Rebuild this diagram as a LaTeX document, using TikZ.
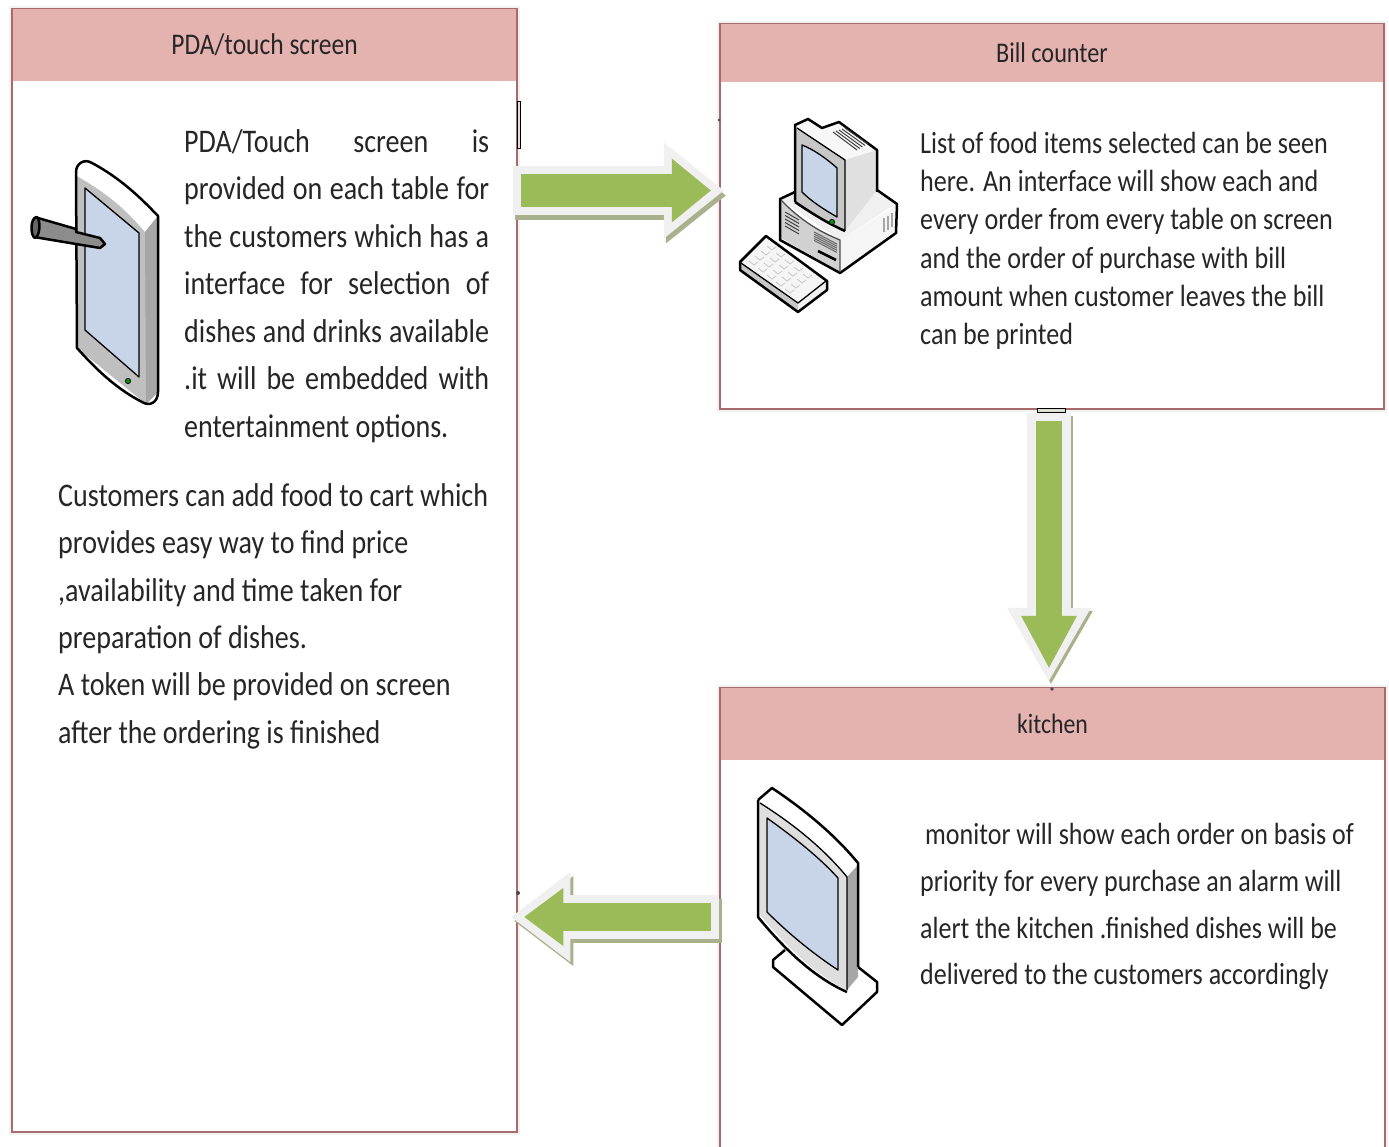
\documentclass[tikz,border=0pt]{standalone}
\usepackage{fontspec}
\setmainfont[FakeStretch=0.85]{Carlito}
\usepackage{tikz}
\usetikzlibrary{arrows.meta}

\definecolor{headred}{HTML}{E4B2AF}
\definecolor{edgered}{HTML}{A86A6A}
\definecolor{arrowgreen}{HTML}{9BBB59}
\definecolor{arrowpale}{HTML}{F0F0F0}
\definecolor{arrowdull}{HTML}{A8B08C}
\definecolor{screenblue}{HTML}{C8D4E8}
\newcommand{\fillline}[1]{\makebox[305pt][s]{#1}}

\begin{document}
\begin{tikzpicture}[
                    x=1pt,
                    y=-1pt,
                    panel/.style={
                        rectangle,
                        draw=edgered,
                        line width=2.5pt,
                        fill=white,
                        inner sep=0pt,
                        preaction={draw=black!5, line width=6pt}
                    },
                    headbar/.style={
                        rectangle,
                        fill=headred,
                        inner sep=0pt,
                        text=black!85,
                        font=\fontsize{30}{36}\selectfont
                    },
                    bodytext/.style={
                        align=left,
                        anchor=north west,
                        inner sep=0pt,
                        text=black!85
                    },
                    arrowedge/.style n args={3}{
                        draw=arrowpale,
                        line width=#1pt,
                        -{Triangle[length=#2pt,width=#3pt,line width=0pt]}
                    },
                    arrowdrop/.style n args={3}{
                        arrowedge={#1}{#2}{#3},
                        draw=arrowdull
                    },
                    arrowfill/.style n args={3}{
                        arrowedge={#1}{#2}{#3},
                        draw=arrowgreen,
                        shorten <=8pt,
                        shorten >=13pt
                    },
                    iconline/.style={
                        draw=black,
                        line width=2.5pt,
                        line join=round
                    },
                    thinline/.style={
                        draw=black,
                        line width=1.3pt,
                        line join=round
                    }
                ]
                    \useasboundingbox (0,0) rectangle (1389,1147);
                    \clip (0,0) rectangle (1389,1147);

                    % Boxes
                    \node (pda) [panel, minimum width=505pt, minimum height=1123pt] at (264.5,570.5) {};
                    \node (pdahead) [headbar, minimum width=503pt, minimum height=72pt, anchor=north] at ([yshift=-1pt]pda.north) {PDA/touch screen};
                    \node (bill) [panel, minimum width=664pt, minimum height=385pt] at (1052,216.5) {};
                    \node (billhead) [headbar, minimum width=662pt, minimum height=58.5pt, anchor=north, font=\fontsize{28.5}{34}\selectfont] at ([yshift=-1pt]bill.north) {Bill counter};
                    \node (kitchen) [panel, minimum width=665pt, minimum height=520pt] at (1052.5,948) {};
                    \node (kitchenhead) [headbar, minimum width=663pt, minimum height=72.5pt, anchor=north, font=\fontsize{28}{34}\selectfont] at ([yshift=-1pt]kitchen.north) {kitchen};

                    % Texts
                    \node (pdatext) [bodytext, font=\fontsize{33}{47.5}\selectfont] at (184,129) {\fillline{PDA/Touch screen is}\\\fillline{provided on each table for}\\\fillline{the customers which has a}\\\fillline{interface for selection of}\\\fillline{dishes and drinks available}\\\fillline{.it will be embedded with}\\entertainment options.};
                    \node (carttext) [bodytext, font=\fontsize{33}{47.3}\selectfont] at (58,483.5) {Customers can add food to cart which\\provides easy way to find price\\,availability and time taken for\\preparation of dishes.\\A token will be provided on screen\\after the ordering is finished};
                    \node (billtext) [bodytext, font=\fontsize{30.7}{38.2}\selectfont] at (920,132) {List of food items selected can be seen\\here. An interface will show each and\\every order from every table on screen\\and the order of purchase with bill\\amount when customer leaves the bill\\can be printed};
                    \node (kitchentext) [bodytext, font=\fontsize{30.6}{46.8}\selectfont] at (920,823) {\hspace{5pt}monitor will show each order on basis of\\priority for every purchase an alarm will\\alert the kitchen .finished dishes will be\\delivered to the customers accordingly};

                    % Tablet
                    \path[fill=black!25] (77,172) -- (85,162) -- (157,217) -- (157,393) -- (146,404) -- (77,348) -- cycle;
                    \path[fill=white] (77,176) .. controls (77,166) and (84,160) .. (92,164) .. controls (120,180) and (140,198) .. (157,217) -- (145,232) .. controls (125,208) and (105,192) .. (77,176) -- cycle;
                    \path[fill=black!35] (145,232) -- (157,217) -- (157,393) -- (146,404) -- cycle;
                    \draw[iconline] (76,172) .. controls (76,164) and (84,158) .. (92,163) .. controls (120,178) and (140,197) .. (158,216) -- (158,392) .. controls (158,402) and (150,407) .. (142,402) .. controls (115,388) and (95,368) .. (77,348) -- cycle;
                    \draw[thinline, fill=screenblue] (85,188) -- (139,233) -- (139,377) -- (85,330) -- cycle;
                    \draw[draw=black, line width=.8pt, fill=green!60!black] (128,381) circle (2.6);
                    \draw[iconline, fill=black!45] (38,218) -- (76,229) -- (76,232) -- (100,238) -- (105,244) -- (100,248) -- (76,244) -- (34,237) -- cycle;
                    \draw[iconline, fill=black!60] (37,217) .. controls (30,217) and (30,236) .. (35,238) .. controls (40,236) and (41,221) .. (37,217) -- cycle;

                    % Desktop computer
                    \path[fill=black!6] (780,199) -- (795,192) -- (877,190) -- (897,203) -- (840,240) -- cycle;
                    \path[fill=black!18] (781,200) .. controls (800,220) and (820,232) .. (840,240) -- (840,272) -- (781,238) -- cycle;
                    \path[fill=black!4] (840,240) -- (896,206) -- (896,233) -- (840,272) -- cycle;
                    \draw[iconline] (795,192) -- (780,199) -- (780,240) -- (840,273) -- (896,233) -- (897,204) -- (877,190);
                    \draw[thinline, draw=black!70] (781,200) .. controls (800,220) and (820,232) .. (840,240) -- (840,272);
                    \path[fill=black!3] (795,125) -- (808,119) -- (822,128) -- (839,122) -- (877,150) -- (845,160) .. controls (830,148) and (812,136) .. (795,125) -- cycle;
                    \path[fill=black!12] (845,160) -- (877,150) -- (877,190) -- (845,231) -- cycle;
                    \path[fill=black!22] (795,128) .. controls (812,138) and (830,150) .. (845,160) -- (845,231) .. controls (825,222) and (810,212) .. (795,202) -- cycle;
                    \draw[iconline] (795,202) -- (795,125) -- (808,119) -- (822,128) -- (839,122) -- (877,150) -- (877,192);
                    \draw[iconline] (795,202) .. controls (810,212) and (825,222) .. (845,231);
                    \draw[thinline] (797,128) .. controls (812,138) and (830,150) .. (845,160) -- (845,231);
                    \draw[thinline, fill=screenblue] (802,145) .. controls (815,150) and (828,160) .. (837,168) -- (837,217) .. controls (825,210) and (812,202) .. (802,192) -- cycle;
                    \draw[draw=black, line width=.8pt, fill=green!60!black] (832,222) circle (2.6);
                    \foreach \ventpos in {0,1,2,3,4}{
                        \draw[draw=black!75, line width=1pt] (833+\ventpos*3,132-\ventpos) -- (857+\ventpos*2.7,150-\ventpos*1.5);
                    }
                    \foreach \ventpos in {0,3.5,7,10.5,14}{
                        \draw[draw=black!75, line width=1pt] (785,212+\ventpos) -- (799,220+\ventpos);
                        \draw[draw=black!60, line width=1pt] (814,232+\ventpos*.6) -- (837,244+\ventpos*.6);
                    }
                    \draw[draw=black, line width=2.5pt] (818,251) -- (836,260);
                    \foreach \ventpos in {0,4,8}{
                        \draw[draw=black!35, line width=1.5pt] (884+\ventpos,218-\ventpos*.6) -- (884+\ventpos,232-\ventpos*.6);
                    }

                    % Keyboard
                    \path[fill=black!4] (740,262) -- (766,236) -- (826,281) -- (798,303) -- cycle;
                    \path[fill=black!22] (740,262) -- (798,303) -- (798,312) -- (740,270) -- cycle;
                    \path[fill=black!6] (798,303) -- (826,281) -- (826,290) -- (798,312) -- cycle;
                    \foreach \keyrow in {0,1,2,3}{
                        \foreach \keycol in {0,1,2,3,4}{
                            \draw[draw=black!22, line width=.8pt] (749+\keyrow*6+\keycol*9,261-\keyrow*5+\keycol*7) -- ++(5,4) -- ++(4,-3);
                        }
                    }
                    \draw[iconline] (740,262) -- (766,236) -- (827,281) -- (827,290) -- (798,312) -- (740,270) -- cycle;
                    \draw[thinline] (741,263) -- (798,303) -- (826,281);

                    % Monitor
                    \draw[iconline, fill=white] (785,950) -- (773,960) -- (773,967) -- (842,1025) -- (877,992) -- (877,982) -- (858,967);
                    \path[fill=white] (758,800) -- (772,788) -- (858,863) -- (847,877) -- cycle;
                    \path[fill=black!13] (760,803) .. controls (795,825) and (825,850) .. (847,877) -- (847,990) .. controls (815,975) and (785,945) .. (760,915) -- cycle;
                    \path[fill=black!35] (847,877) -- (858,865) -- (858,977) -- (847,990) -- cycle;
                    \draw[iconline] (758,800) -- (772,788) .. controls (805,810) and (835,835) .. (858,863) -- (858,967);
                    \draw[iconline] (758,800) -- (758,917) .. controls (785,950) and (815,978) .. (847,992);
                    \draw[thinline] (760,803) .. controls (795,825) and (825,850) .. (847,877) -- (847,990);
                    \draw[thinline, fill=screenblue] (767,818) .. controls (795,838) and (820,858) .. (838,878) -- (838,970) .. controls (815,955) and (790,935) .. (767,912) -- cycle;

                    % Marks on the box edges
                    \draw[draw=black, line width=1pt, fill=arrowdull!40] (517,102) rectangle (520,149);
                    \draw[draw=black, line width=1pt, fill=arrowdull!40] (1037,408) rectangle (1065,412);
                    \fill[black!70] (719,120) circle (1.5);
                    \fill[black!70] (518,893) circle (2);

                    % Arrow ends
                    \coordinate (pdaout) at (pda.east |- 0,190.5);
                    \coordinate (billin) at (bill.west |- 0,190.5);
                    \coordinate (billout) at (bill.south -| 1049,0);
                    \coordinate (kitchenin) at (kitchen.north -| 1049,0);
                    \coordinate (kitchenout) at (kitchen.west |- 0,917);
                    \coordinate (pdain) at (pda.east |- 0,917);

                    % Edges
                    \draw[arrowdrop={49}{60}{96}, transform canvas={shift={(2pt,-5pt)}}] ([xshift=-5pt]pdaout) -- ([xshift=5pt]billin);
                    \draw[arrowedge={49}{60}{96}] ([xshift=-5pt]pdaout) -- ([xshift=5pt]billin);
                    \draw[arrowfill={33}{39}{64}] ([xshift=-5pt]pdaout) -- ([xshift=5pt]billin);

                    \draw[arrowdrop={44}{73}{84}, transform canvas={shift={(2pt,-3pt)}}] ([yshift=-3pt]billout) -- ([yshift=6pt]kitchenin);
                    \draw[arrowedge={44}{73}{84}] ([yshift=-3pt]billout) -- ([yshift=6pt]kitchenin);
                    \draw[arrowfill={26}{52}{56}] ([yshift=-3pt]billout) -- ([yshift=6pt]kitchenin);

                    \draw[arrowdrop={44}{59}{90}, transform canvas={shift={(3pt,-4pt)}}] (kitchenout) -- ([xshift=-7pt]pdain);
                    \draw[arrowedge={44}{59}{90}] (kitchenout) -- ([xshift=-7pt]pdain);
                    \draw[arrowfill={28}{39}{58}] (kitchenout) -- ([xshift=-7pt]pdain);
                    \fill[black!70] (1052,689) circle (1.8);
                \end{tikzpicture}
\end{document}
